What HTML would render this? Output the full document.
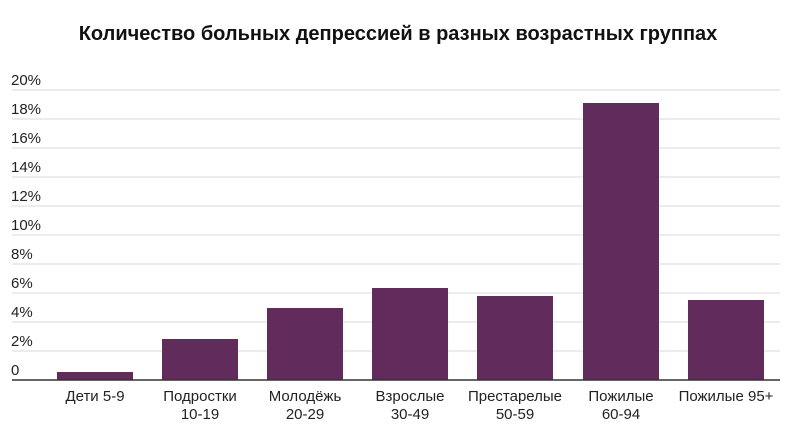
<!DOCTYPE html>
<html><head><meta charset="utf-8"><style>
body{margin:0;background:#fff;width:788px;height:432px;overflow:hidden;font-family:"Liberation Sans",sans-serif;}
</style></head><body>
<svg width="788" height="432" xmlns="http://www.w3.org/2000/svg" font-family="Liberation Sans, sans-serif">
<text x="398" y="40" text-anchor="middle" font-size="20" font-weight="bold" fill="#111">Количество больных депрессией в разных возрастных группах</text>
<g stroke="#e6e6e6" stroke-width="1.5">
<line x1="12" x2="780" y1="90" y2="90"/><line x1="12" x2="780" y1="119" y2="119"/>
<line x1="12" x2="780" y1="148" y2="148"/><line x1="12" x2="780" y1="177" y2="177"/>
<line x1="12" x2="780" y1="206" y2="206"/><line x1="12" x2="780" y1="235" y2="235"/>
<line x1="12" x2="780" y1="264" y2="264"/><line x1="12" x2="780" y1="293" y2="293"/>
<line x1="12" x2="780" y1="322" y2="322"/><line x1="12" x2="780" y1="351" y2="351"/>
</g>
<g font-size="15" fill="#222">
<text x="11" y="85">20%</text><text x="11" y="114">18%</text><text x="11" y="143">16%</text>
<text x="11" y="172">14%</text><text x="11" y="201">12%</text><text x="11" y="230">10%</text>
<text x="11" y="259">8%</text><text x="11" y="288">6%</text><text x="11" y="317">4%</text>
<text x="11" y="346">2%</text><text x="11" y="375">0</text>
</g>
<g fill="#612b5b">
<rect x="57" y="372" width="76" height="8"/>
<rect x="162" y="339" width="76" height="41"/>
<rect x="267" y="308" width="76" height="72"/>
<rect x="372" y="288" width="76" height="92"/>
<rect x="477" y="296" width="76" height="84"/>
<rect x="583" y="103" width="76" height="277"/>
<rect x="688" y="300" width="76" height="80"/>
</g>
<line x1="12" x2="780" y1="380" y2="380" stroke="#333" stroke-width="1.5"/>
<g font-size="15" fill="#222" text-anchor="middle">
<text x="95" y="401">Дети 5-9</text>
<text x="200" y="401">Подростки</text><text x="200" y="419">10-19</text>
<text x="305" y="401">Молодёжь</text><text x="305" y="419">20-29</text>
<text x="410" y="401">Взрослые</text><text x="410" y="419">30-49</text>
<text x="515" y="401">Престарелые</text><text x="515" y="419">50-59</text>
<text x="621" y="401">Пожилые</text><text x="621" y="419">60-94</text>
<text x="726" y="401">Пожилые 95+</text>
</g>
</svg>
</body></html>
